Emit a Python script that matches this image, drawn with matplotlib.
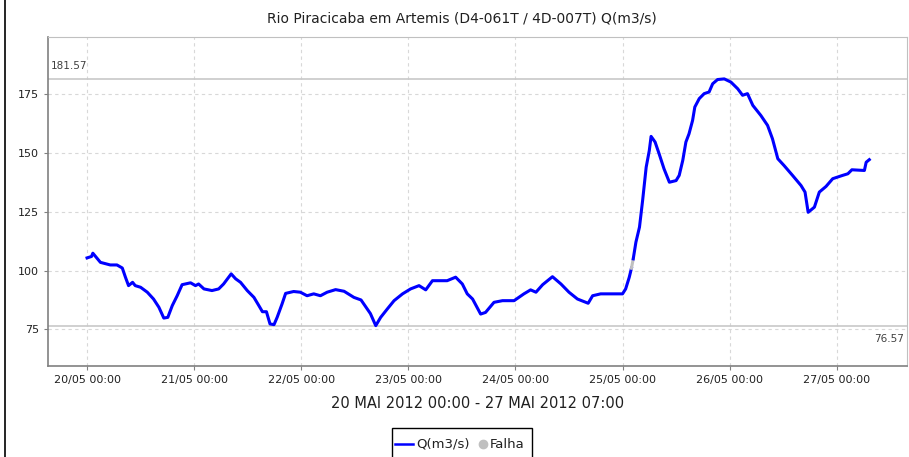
#!/usr/bin/env python
# -*- coding: utf-8 -*-
import datetime as dt

import matplotlib
matplotlib.use("Agg")
import matplotlib.pyplot as plt
import matplotlib.dates as mdates
from matplotlib.lines import Line2D
from matplotlib.patches import Rectangle

# Vazao Q(m3/s) - hours since 20/05/2012 00:00
hours = [0.0, 1.0, 1.3, 3.0, 5.2, 6.7, 7.9, 8.6, 9.3, 10.2, 10.8, 12.0, 13.5,
         14.9, 16.1, 17.2, 18.1, 19.1, 20.2, 21.3, 23.2, 24.3, 25.0, 26.2,
         28.0, 29.5, 30.6, 32.3, 33.3, 34.4, 35.9, 37.4, 38.5, 39.3, 40.2,
         41.0, 41.9, 42.6, 43.7, 44.5, 46.3, 47.8, 49.3, 50.8, 52.3, 53.8,
         55.7, 57.6, 59.8, 61.4, 63.5, 64.7, 65.8, 67.3, 68.8, 70.7, 72.5,
         74.4, 75.9, 77.4, 80.7, 82.6, 84.1, 85.2, 86.4, 88.2, 89.3, 91.2,
         93.1, 95.7, 97.9, 99.4, 100.6, 102.1, 104.3, 106.2, 108.0, 109.9,
         112.3, 113.3, 115.1, 120.0, 120.7, 121.5, 122.0]
vazao = [105.4, 106.0, 107.4, 103.5, 102.4, 102.4, 101.1, 97.2, 93.6, 95.0,
         93.6, 92.9, 90.8, 87.9, 84.4, 79.8, 80.1, 85.1, 89.3, 94.0, 94.8,
         93.6, 94.3, 92.2, 91.5, 92.2, 94.3, 98.6, 96.5, 95.0, 91.5, 88.6,
         85.1, 82.5, 82.5, 77.3, 77.0, 80.1, 85.8, 90.3, 91.1, 90.8, 89.3,
         90.1, 89.3, 90.8, 91.9, 91.2, 88.6, 87.5, 81.7, 76.57, 80.1, 83.7,
         87.2, 90.1, 92.2, 93.6, 91.8, 95.7, 95.7, 97.2, 94.3, 90.1, 87.9,
         81.5, 82.2, 86.5, 87.2, 87.2, 90.1, 91.8, 90.8, 94.0, 97.4, 94.3,
         90.8, 87.9, 86.1, 89.3, 90.1, 90.1, 92.2, 97.1, 101.0]

# short gap flagged as failure during the rise on 25/05
falha_hours = [122.0, 122.4]
falha_vazao = [101.0, 105.0]

hours2 = [122.4, 123.0, 123.8, 124.5, 125.3, 126.0, 126.4, 127.3, 128.2,
          129.3, 130.5, 132.0, 132.7, 133.5, 134.2, 134.9, 135.7, 136.2,
          137.2, 138.3, 139.4, 140.2, 141.3, 142.8, 144.3, 145.8, 146.9,
          148.0, 149.2, 151.0, 152.5, 153.6, 154.8, 156.2, 158.1, 160.0,
          160.9, 161.6, 163.0, 164.1, 165.6, 167.1, 169.3, 170.5, 171.4,
          174.2, 174.6, 175.3]
vazao2 = [105.0, 112.1, 118.5, 129.8, 144.0, 151.1, 157.1, 154.7, 149.7,
          143.3, 137.6, 138.3, 140.5, 146.9, 154.7, 158.2, 163.9, 169.6,
          173.2, 175.3, 176.0, 179.5, 181.3, 181.57, 180.2, 177.4, 174.6,
          175.3, 170.3, 166.0, 161.8, 156.1, 147.6, 144.7, 140.5, 136.2,
          133.4, 124.8, 127.0, 133.4, 135.8, 139.1, 140.5, 141.2, 142.9,
          142.6, 146.1, 147.2]

q_max = 181.57
q_min = 76.57
yticks = [75, 100, 125, 150, 175]

t0 = dt.datetime(2012, 5, 20, 0, 0)
t_end = dt.datetime(2012, 5, 27, 7, 0)


def to_dates(hs):
    return [t0 + dt.timedelta(hours=h) for h in hs]


fig = plt.figure(figsize=(9.09, 4.57), dpi=100)
ax = fig.add_axes([48 / 909, 1 - 366 / 457, 859 / 909, 329 / 457])

ax.plot(to_dates(hours), vazao, color="#0000ff", lw=2.2, zorder=3)
ax.plot(to_dates(falha_hours), falha_vazao, color="#c0c0c0", lw=2.2, zorder=3)
ax.plot(to_dates(hours2), vazao2, color="#0000ff", lw=2.2, zorder=3)

# max / min markers
ax.axhline(q_max, color="#c8c8c8", lw=1.2, zorder=2)
ax.axhline(q_min, color="#c8c8c8", lw=1.2, zorder=2)
ax.text(0.003, q_max + 3.5, "%.2f" % q_max, transform=ax.get_yaxis_transform(),
        fontsize=7.5, color="#404040", ha="left", va="bottom")
ax.text(0.997, q_min - 3.5, "%.2f" % q_min, transform=ax.get_yaxis_transform(),
        fontsize=7.5, color="#404040", ha="right", va="top")

span = t_end - t0
ax.set_xlim(t0 - span * 0.05, t_end + span * 0.05)
ax.set_ylim(59.4, 199.4)
ax.set_yticks(yticks)
ax.xaxis.set_major_locator(mdates.DayLocator())
ax.xaxis.set_major_formatter(mdates.DateFormatter("%d/%m %H:%M"))

ax.grid(True, color="#d8d8d8", linestyle=(0, (3, 3)), lw=0.8)
for side in ["left", "bottom"]:
    ax.spines[side].set_color("#808080")
    ax.spines[side].set_linewidth(1.2)
for side in ["top", "right"]:
    ax.spines[side].set_color("#c0c0c0")
ax.tick_params(axis="both", colors="#808080", labelcolor="#202020",
               labelsize=8, length=3)

fig.text(462 / 909, 1 - 18 / 457, "Rio Piracicaba em Artemis (D4-061T / 4D-007T) Q(m3/s)",
         ha="center", va="center", fontsize=10, color="#202020")
fig.text(478 / 909, 1 - 404 / 457, "20 MAI 2012 00:00 - 27 MAI 2012 07:00",
         ha="center", va="center", fontsize=10.5, color="#202020")

# legend box, cut by the bottom edge
fig.add_artist(Rectangle((391.7 / 909, -0.02), 140.6 / 909, 1 - 427.7 / 457 + 0.02,
                         transform=fig.transFigure, fill=False, edgecolor="black",
                         lw=1.0, clip_on=False))
ly = 1 - 444 / 457
fig.add_artist(Line2D([395 / 909, 413 / 909], [ly, ly], color="#0000ff", lw=1.8,
                      transform=fig.transFigure))
fig.text(416 / 909, ly, "Q(m3/s)", ha="left", va="center", fontsize=9.5, color="#202020")
fig.add_artist(Line2D([483 / 909], [ly], marker="o", markersize=6, color="#c0c0c0",
                      lw=0, transform=fig.transFigure))
fig.text(490 / 909, ly, "Falha", ha="left", va="center", fontsize=9.5, color="#202020")

# dark frame line on the left edge
fig.add_artist(Line2D([4.5 / 909, 4.5 / 909], [0, 1], color="black", lw=1.2,
                      transform=fig.transFigure))

fig.savefig("out.png", dpi=100)
